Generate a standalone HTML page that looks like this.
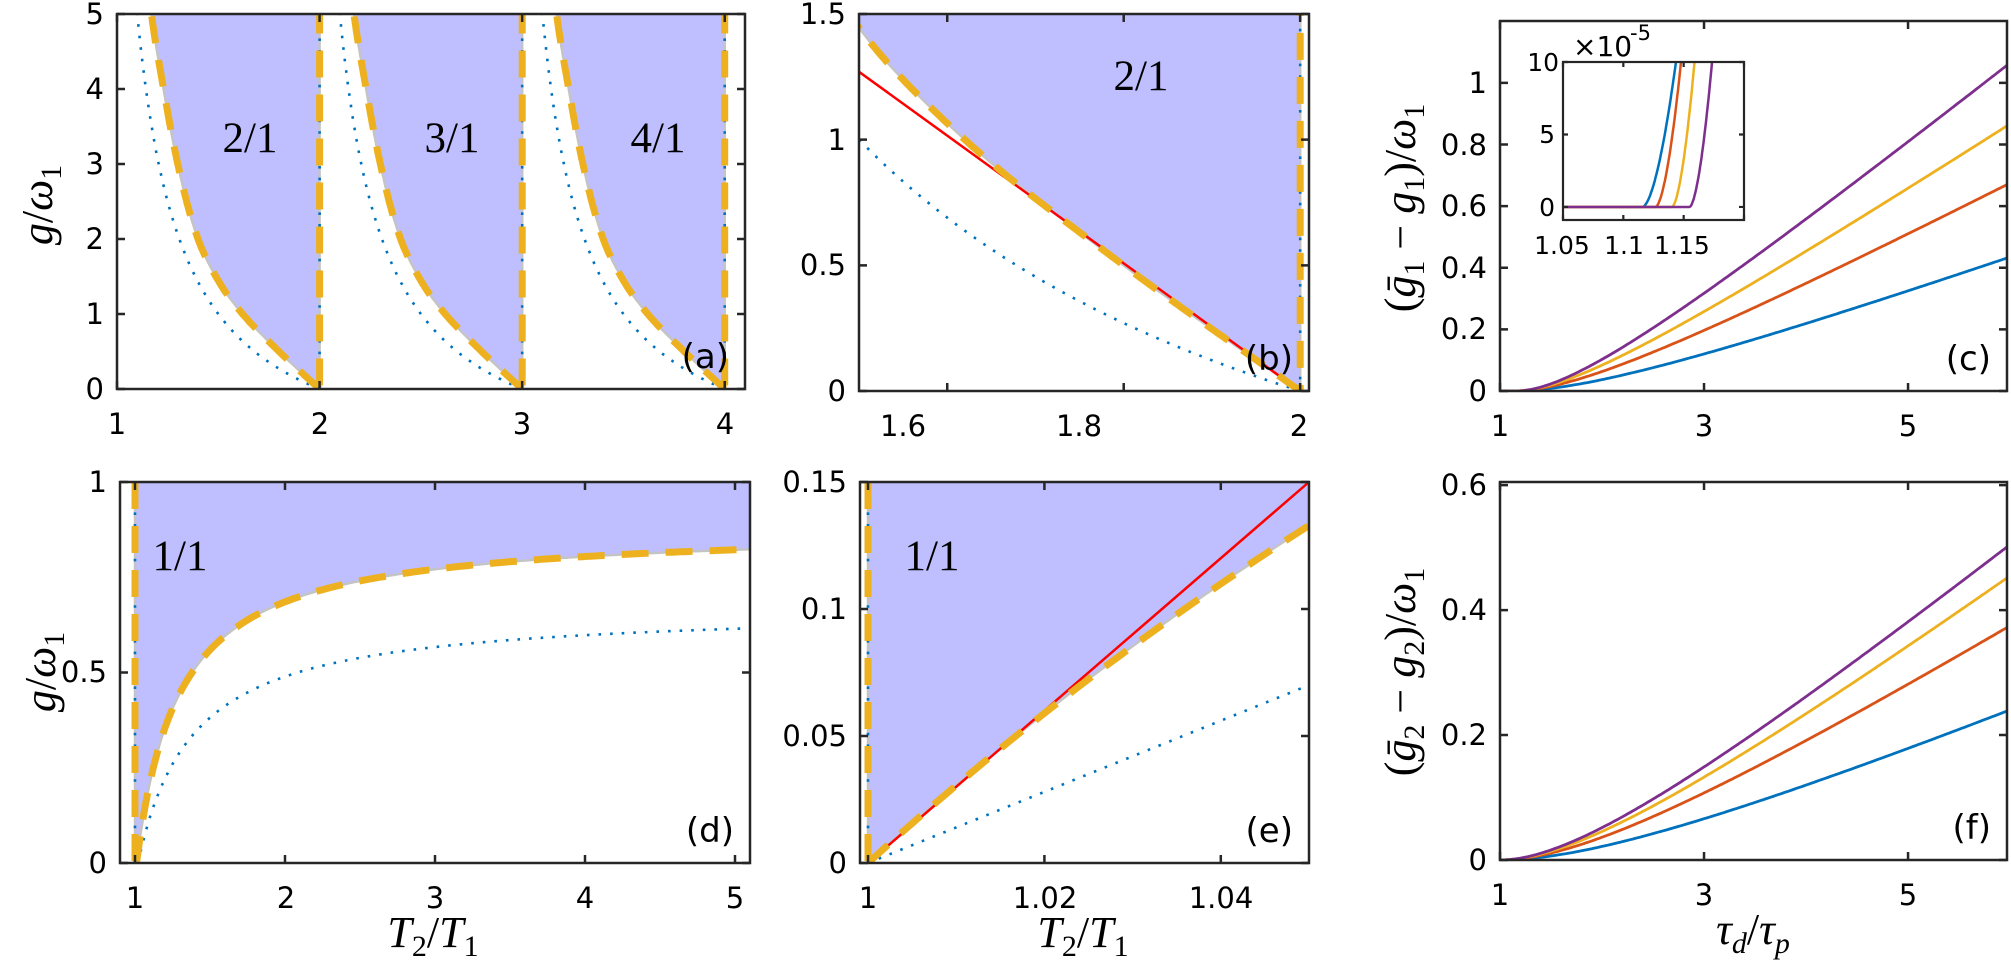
<!DOCTYPE html>
<html><head><meta charset="utf-8"><style>
html,body{margin:0;padding:0;background:#fff;}
svg{display:block;}
.tk{font-family:"DejaVu Sans","Liberation Sans",sans-serif;font-size:29px;fill:#000;}
.it{font-family:"DejaVu Sans","Liberation Sans",sans-serif;font-size:25px;fill:#000;}
.lb{font-family:"Liberation Serif","DejaVu Serif",serif;font-size:44px;fill:#000;}
.rg{font-family:"Liberation Serif","DejaVu Serif",serif;font-size:43px;fill:#000;}
.pl{font-family:"DejaVu Sans","Liberation Sans",sans-serif;font-size:34px;fill:#000;}
</style></head><body>
<svg id="s" width="2011" height="966" viewBox="0 0 2011 966" xmlns="http://www.w3.org/2000/svg">
<rect width="2011" height="966" fill="#fff"/>
<g id="plots"></g>
<g id="axes"></g>
<g class="tk" text-anchor="middle">
<text x="117" y="434">1</text><text x="320" y="434">2</text><text x="522" y="434">3</text><text x="725" y="434">4</text>
<text x="903" y="436">1.6</text><text x="1079" y="436">1.8</text><text x="1299" y="436">2</text>
<text x="1500" y="436">1</text><text x="1704" y="436">3</text><text x="1908" y="436">5</text>
<text x="135" y="908">1</text><text x="286" y="908">2</text><text x="435" y="908">3</text><text x="585" y="908">4</text><text x="735" y="908">5</text>
<text x="868" y="908">1</text><text x="1045" y="908">1.02</text><text x="1221" y="908">1.04</text>
<text x="1500" y="905">1</text><text x="1704" y="905">3</text><text x="1908" y="905">5</text>
</g>
<g class="tk" text-anchor="end">
<text x="104" y="399">0</text><text x="104" y="324">1</text><text x="104" y="249">2</text><text x="104" y="174">3</text><text x="104" y="99">4</text><text x="104" y="24">5</text>
<text x="846" y="401">0</text><text x="846" y="275">0.5</text><text x="846" y="150">1</text><text x="846" y="24">1.5</text>
<text x="1487" y="401">0</text><text x="1487" y="339">0.2</text><text x="1487" y="278">0.4</text><text x="1487" y="216">0.6</text><text x="1487" y="155">0.8</text><text x="1487" y="93">1</text>
<text x="107" y="873">0</text><text x="107" y="682">0.5</text><text x="107" y="492">1</text>
<text x="847" y="873">0</text><text x="847" y="746">0.05</text><text x="847" y="619">0.1</text><text x="847" y="492">0.15</text>
<text x="1487" y="870">0</text><text x="1487" y="745">0.2</text><text x="1487" y="620">0.4</text><text x="1487" y="495">0.6</text>
</g>
<g class="it">
<text x="1555" y="216" text-anchor="end">0</text><text x="1555" y="143" text-anchor="end">5</text><text x="1559" y="71" text-anchor="end">10</text>
<text x="1562" y="254" text-anchor="middle">1.05</text><text x="1624" y="254" text-anchor="middle">1.1</text><text x="1682" y="254" text-anchor="middle">1.15</text>
<text x="1573" y="56" font-size="28">×10</text><text x="1630" y="40" font-size="21">-5</text>
</g>
<g class="pl" text-anchor="end">
<text x="729" y="368">(a)</text><text x="1293" y="370">(b)</text><text x="1991" y="370">(c)</text>
<text x="734" y="842">(d)</text><text x="1293" y="842">(e)</text><text x="1991" y="839">(f)</text>
</g>
<g class="rg" text-anchor="middle">
<text x="250" y="152">2/1</text><text x="452" y="152">3/1</text><text x="658" y="152">4/1</text>
<text x="1141" y="90">2/1</text>
<text x="180" y="570">1/1</text>
<text x="932" y="570">1/1</text>
</g>
<g class="lb">
<text transform="translate(52,205) rotate(-90)" text-anchor="middle"><tspan font-style="italic">g</tspan>/<tspan font-style="italic">ω</tspan><tspan font-size="30" dy="9">1</tspan></text>
<text transform="translate(55,672) rotate(-90)" text-anchor="middle"><tspan font-style="italic">g</tspan>/<tspan font-style="italic">ω</tspan><tspan font-size="30" dy="9">1</tspan></text>
<text transform="translate(1415,208) rotate(-90)" text-anchor="middle">(<tspan font-style="italic">ḡ</tspan><tspan font-size="30" dy="9">1</tspan><tspan dy="-9"> − </tspan><tspan font-style="italic">g</tspan><tspan font-size="30" dy="9">1</tspan><tspan dy="-9">)/</tspan><tspan font-style="italic">ω</tspan><tspan font-size="30" dy="9">1</tspan></text>
<text transform="translate(1415,672) rotate(-90)" text-anchor="middle">(<tspan font-style="italic">ḡ</tspan><tspan font-size="30" dy="9">2</tspan><tspan dy="-9"> − </tspan><tspan font-style="italic">g</tspan><tspan font-size="30" dy="9">2</tspan><tspan dy="-9">)/</tspan><tspan font-style="italic">ω</tspan><tspan font-size="30" dy="9">1</tspan></text>
<text x="433" y="947" text-anchor="middle"><tspan font-style="italic">T</tspan><tspan font-size="30" dy="9">2</tspan><tspan dy="-9">/</tspan><tspan font-style="italic">T</tspan><tspan font-size="30" dy="9">1</tspan></text>
<text x="1083" y="947" text-anchor="middle"><tspan font-style="italic">T</tspan><tspan font-size="30" dy="9">2</tspan><tspan dy="-9">/</tspan><tspan font-style="italic">T</tspan><tspan font-size="30" dy="9">1</tspan></text>
<text x="1753" y="944" text-anchor="middle"><tspan font-style="italic">τ</tspan><tspan font-size="30" dy="9" font-style="italic">d</tspan><tspan dy="-9">/</tspan><tspan font-style="italic">τ</tspan><tspan font-size="30" dy="9" font-style="italic">p</tspan></text>
</g>
</svg>
<script>
(function(){
var NS="http://www.w3.org/2000/svg";
var plots=document.getElementById('plots'),axes=document.getElementById('axes');
function el(t,a,p){var e=document.createElementNS(NS,t);for(var k in a)e.setAttribute(k,a[k]);(p||plots).appendChild(e);return e;}
var A={x0:117,x1:745,y0:14,y1:389,xr:[1,4.1],yr:[0,5]},
B={x0:859,x1:1309,y0:14,y1:391,xr:[1.5,2.01],yr:[0,1.5]},
C={x0:1500,x1:2007,y0:21,y1:391,xr:[1,5.97],yr:[0,1.201]},
D={x0:120,x1:750,y0:482,y1:863,xr:[0.9,5.1],yr:[0,1]},
E={x0:860,x1:1309,y0:482,y1:863,xr:[0.99909,1.05],yr:[0,0.15]},
F={x0:1500,x1:2007,y0:482,y1:860,xr:[1,5.97],yr:[0,0.605]},
I={x0:1563,x1:1744,y0:62,y1:220,xr:[1.05,1.2],yr:[-0.9,10]};
function X(p,x){return p.x0+(x-p.xr[0])/(p.xr[1]-p.xr[0])*(p.x1-p.x0);}
function Y(p,y){return p.y1-(y-p.yr[0])/(p.yr[1]-p.yr[0])*(p.y1-p.y0);}
function path(p,pts){return pts.map(function(q,i){return (i?'L':'M')+X(p,q[0]).toFixed(1)+' '+Y(p,q[1]).toFixed(1);}).join(' ');}
var cid=0;
function clipG(p){cid++;var cp=el('clipPath',{id:'c'+cid});el('rect',{x:p.x0,y:p.y0,width:p.x1-p.x0,height:p.y1-p.y0},cp);return el('g',{'clip-path':'url(#c'+cid+')'});}
var OR='#EDB120',BL='#0072BD',GR='#c4c4c4',SH='#bfbfff';
function orange(g,d){el('path',{d:d,fill:'none',stroke:OR,'stroke-width':7,'stroke-dasharray':'27 17'},g);}
function dotted(g,d){el('path',{d:d,fill:'none',stroke:BL,'stroke-width':2.6,'stroke-dasharray':'2.6 9'},g);}
function gray(g,d){el('path',{d:d,fill:'none',stroke:GR,'stroke-width':2.5},g);}
// PCHIP
function pchip(xs,ys){var n=xs.length,h=[],dl=[],m=[];
 for(var i=0;i<n-1;i++){h[i]=xs[i+1]-xs[i];dl[i]=(ys[i+1]-ys[i])/h[i];}
 m[0]=dl[0];m[n-1]=dl[n-2];
 for(i=1;i<n-1;i++){if(dl[i-1]*dl[i]<=0)m[i]=0;else{var w1=2*h[i]+h[i-1],w2=h[i]+2*h[i-1];m[i]=(w1+w2)/(w1/dl[i-1]+w2/dl[i]);}}
 return function(x){var i=0;while(i<n-2&&x>xs[i+1])i++;var t=(x-xs[i])/h[i],t2=t*t,t3=t2*t;
  return (2*t3-3*t2+1)*ys[i]+(t3-2*t2+t)*h[i]*m[i]+(-2*t3+3*t2)*ys[i+1]+(t3-t2)*h[i]*m[i+1];};}
var dO=pchip([0,0.5,1,1.4,2,3,4,5,5.5],[0,0.2,0.38,0.49,0.6,0.7,0.77,0.83,0.85]);
function dD(g){return 1.125*g/(g+1.25);}
function samp(f,a,b,n){var r=[];for(var i=0;i<=n;i++){var t=a+(b-a)*i/n;r.push(f(t));}return r;}
[[A,[2,3,4],5.1],[B,[2],1.6]].forEach(function(cfg){
 var p=cfg[0],g=clipG(p),gm=cfg[2];
 cfg[1].forEach(function(n){
  var bo=samp(function(gg){return [n-dO(gg),gg];},0,gm,200);
  var poly=bo.concat([[n,gm],[n,0]]);
  el('path',{d:path(p,poly)+'Z',fill:SH,stroke:'none'},g);
  gray(g,path(p,bo));gray(g,path(p,[[n,0],[n,gm]]));
  if(p===B){el('path',{d:path(p,[[1.5,2.54*0.5],[2,0]]),stroke:'#ff0000','stroke-width':2.5,fill:'none'},g);}
  dotted(g,path(p,samp(function(gg){return [n-dD(gg),gg];},0,gm,150)));
  orange(g,path(p,bo));
  dotted(g,path(p,[[n,0],[n,gm]]));
  orange(g,path(p,[[n,gm],[n,0]]));
 });
});
(function(){var p=D,g=clipG(p);
 var cu=samp(function(x){var u=x-1.01;return [x,0.88*u/(u+0.281)];},1.01,5.1,150);
 el('path',{d:path(p,[[1,0]].concat(cu,[[5.1,1],[1,1]]))+'Z',fill:SH},g);
 gray(g,path(p,cu));gray(g,path(p,[[1,0],[1,1]]));
 dotted(g,path(p,samp(function(x){var u=x-1.02;return [x,0.671*u/(u+0.364)];},1.02,5.1,150)));
 orange(g,path(p,cu));dotted(g,path(p,[[1,0],[1,1]]));orange(g,path(p,[[1,1],[1,0]]));
})();
(function(){var p=E,g=clipG(p);
 var cu=samp(function(x){var u=x-1;return [x,3.18*u/(1+3.93*u)];},1,1.051,60);
 el('path',{d:path(p,cu.concat([[1.051,0.15],[1,0.15]]))+'Z',fill:SH},g);
 gray(g,path(p,cu));gray(g,path(p,[[1,0],[1,0.15]]));
 dotted(g,path(p,[[1,0],[1.051,0.0714]]));
 el('path',{d:path(p,[[1,0],[1.051,0.153]]),stroke:'#ff0000','stroke-width':2.5,fill:'none'},g);
 orange(g,path(p,cu));dotted(g,path(p,[[1,0],[1,0.15]]));orange(g,path(p,[[1,0.15],[1,0]]));
})();
var cols=['#0072BD','#D95319','#EDB120','#7E2F8E'];
(function(){var p=C,g=clipG(p);
 var par=[[0.435,1.6,1.12],[0.675,1.2,1.13],[0.867,1.05,1.14],[1.065,1.0,1.155]];
 par.forEach(function(q,i){var xs=q[2],c=q[1],u6=6-xs,Ak=q[0]*(u6+c)/(u6*u6);
  el('path',{d:path(p,samp(function(x){var u=Math.max(0,x-xs);return [x,Ak*u*u/(u+c)];},1,6,200)),stroke:cols[i],'stroke-width':2.8,fill:'none'},g);});
})();
(function(){var p=F,g=clipG(p);
 var par=[[0.069,2.18],[0.102,1.8],[0.121,1.65],[0.1324,1.556]];
 par.forEach(function(q,i){
  el('path',{d:path(p,samp(function(x){var u=x-1;return [x,q[0]*u*u/(u+q[1])];},1,6,200)),stroke:cols[i],'stroke-width':2.8,fill:'none'},g);});
})();
(function(){var p=I;el('rect',{x:p.x0,y:p.y0,width:p.x1-p.x0,height:p.y1-p.y0,fill:'#fff'});var g=clipG(p);
 var par=[[1.1159,1.1436],[1.1267,1.1478],[1.1403,1.159],[1.1549,1.1735]];
 par.forEach(function(q,i){
  el('path',{d:path(p,samp(function(x){var t=Math.max(0,(x-q[0])/(q[1]-q[0]));return [x,10*Math.pow(t,1.7)];},1.05,q[1]+0.004,200)),stroke:cols[i],'stroke-width':2.5,fill:'none'},g);});
})();
function box(p,xt,yt,L,w){
 el('rect',{x:p.x0,y:p.y0,width:p.x1-p.x0,height:p.y1-p.y0,fill:'none',stroke:'#262626','stroke-width':w},axes);
 var d='';
 xt.forEach(function(v){var x=X(p,v);d+='M'+x+' '+p.y1+'v'+(-L)+'M'+x+' '+p.y0+'v'+L;});
 yt.forEach(function(v){var y=Y(p,v);d+='M'+p.x0+' '+y+'h'+L+'M'+p.x1+' '+y+'h'+(-L);});
 el('path',{d:d,stroke:'#262626','stroke-width':w,fill:'none'},axes);
}
box(A,[1,2,3,4],[0,1,2,3,4,5],8,2.5);
box(B,[1.6,1.8,2],[0,0.5,1,1.5],8,2.5);
box(C,[1,3,5],[0,0.2,0.4,0.6,0.8,1],8,2.5);
box(D,[1,2,3,4,5],[0,0.5,1],8,2.5);
box(E,[1,1.02,1.04],[0,0.05,0.1,0.15],8,2.5);
box(F,[1,3,5],[0,0.2,0.4,0.6],8,2.5);
box(I,[1.05,1.1,1.15,1.2],[0,5,10],5,2.2);
})();
</script>
</body></html>
